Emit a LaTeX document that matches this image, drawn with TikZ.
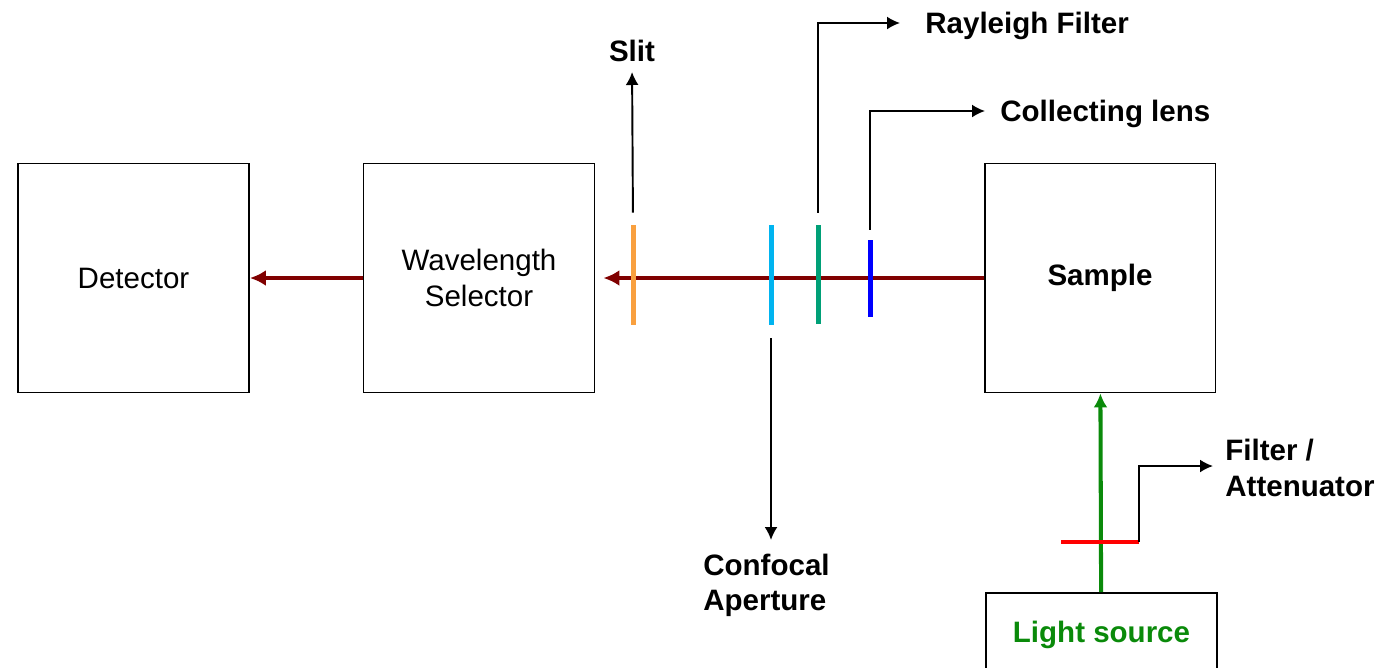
\documentclass[tikz,border=0pt]{standalone}
\usepackage{fontspec}
\setmainfont{Liberation Sans}
\usepackage{xcolor}
\usetikzlibrary{positioning, arrows.meta}

\definecolor{beam}{HTML}{800000}
\definecolor{slitcol}{HTML}{F9A03F}
\definecolor{confcol}{HTML}{00B4F0}
\definecolor{raylcol}{HTML}{00A077}
\definecolor{lenscol}{HTML}{0000FF}
\definecolor{filtcol}{HTML}{FF0000}
\definecolor{srcgreen}{HTML}{0A8A0A}

\begin{document}
\begin{tikzpicture}[x=0.02cm,y=-0.02cm,
  box/.style={draw, line width=1.1pt, minimum width=4.62cm, minimum height=4.58cm,
    inner sep=0pt, align=center, font=\fontsize{16.8}{20}\selectfont},
  tag/.style={inner sep=0pt, align=left, font=\fontsize{16.8}{20}\selectfont\bfseries},
  optic/.style={fill, draw=none, inner sep=0pt, minimum width=0.1cm},
  pointer/.style={line width=1.1pt, -{Latex[length=0.26cm,width=0.26cm]}},
  ray/.style={line width=2.8pt, color=beam, -{Latex[length=0.32cm,width=0.32cm]}}]
       \useasboundingbox (0,0) rectangle (1398,667);

       % boxes
       \node[box] (det) at (133.5,278) {Detector};
       \node[box] (sel) at (479,278) {Wavelength\\Selector};
       \node[box, font=\fontsize{16.8}{20}\selectfont\bfseries] (sample) at (1100,278) {Sample};
       \node[box, anchor=north,
             label={[tag, name=srctxt, text=srcgreen, anchor=center, yshift=-0.86cm]north:Light source}]
             (light) at (1101.5,592) {};

       % beams
       \draw[ray, shorten >=0.16cm] (sample) -- (sel);
       \draw[ray] (sel) -- (det);
       \draw[ray, color=srcgreen, line width=2.3pt, -{Latex[length=0.28cm,width=0.28cm]}] (light) -- (sample);

       % optics on the beam
       \node[optic, slitcol, minimum height=2cm] (slit) at (633,275) {};
       \node[optic, confcol, minimum height=2cm] (conf) at (771,275) {};
       \node[optic, raylcol, minimum height=1.98cm] (rayl) at (818,274.5) {};
       \node[optic, lenscol, minimum height=1.54cm] (lens) at (870,278.5) {};
       \node[optic, filtcol, minimum width=1.56cm, minimum height=0.08cm] (filt) at (1100,542) {};

       % labels
       \node[tag, anchor=base] (slittxt) at (632,61) {Slit};
       \node[tag, anchor=north west] (conftxt) at (703,554) {Confocal\\Aperture};
       \node[tag, anchor=west] (rayltxt) at (925,26) {Rayleigh Filter};
       \node[tag, anchor=west] (colltxt) at (1000,114) {Collecting lens};
       \node[tag, anchor=west] (filttxt) at (1225,468) {Filter /\\Attenuator};

       \draw[pointer, shorten <=0.24cm, shorten >=0.22cm] (slit.north) -- (slittxt.base);
       \draw[pointer, shorten <=0.26cm, shorten >=0.28cm] (conf.south) -- (conf.south |- conftxt.north);
       \draw[pointer, shorten <=0.24cm, shorten >=0.5cm] (rayl.north) |- ([yshift=0.06cm]rayltxt.west);
       \draw[pointer, shorten <=0.2cm, shorten >=0.3cm] (lens.north) |- ([yshift=0.06cm]colltxt.west);
       \draw[pointer, shorten >=0.24cm] (filt.east) |- ([yshift=0.04cm]filttxt.west);
    \end{tikzpicture}
\end{document}
